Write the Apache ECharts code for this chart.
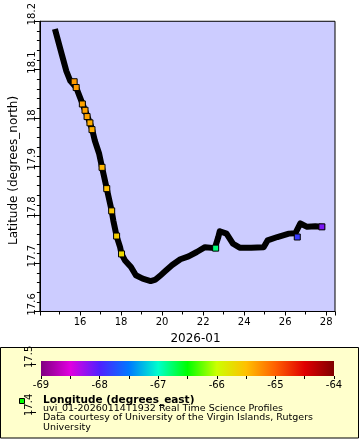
<!DOCTYPE html>
<html><head><meta charset="utf-8">
<script src="https://cdn.jsdelivr.net/npm/echarts@6/dist/echarts.min.js"></script>
<style>html,body{margin:0;padding:0;background:#fff}#c{width:360px;height:440px}</style>
</head><body><div id="c"></div>
<script>
// Track (time in days of 2026-01, latitude)
const trackDay = [14.81,15.11,15.33,15.52,15.81,16.00,16.24,16.48,16.59,16.72,16.93,17.07,17.30,17.54,17.62,17.78,17.95,18.02,18.18,18.48,18.72,19.05,19.44,19.68,19.93,20.17,20.49,20.89,21.29,21.69,22.09,22.57,22.74,22.81,23.14,23.46,23.78,24.34,24.95,25.14,25.62,26.18,26.50,26.74,27.07,27.47,27.79];
const trackLat = [18.178,18.131,18.097,18.077,18.063,18.042,18.016,17.990,17.976,17.953,17.926,17.898,17.854,17.808,17.788,17.756,17.733,17.719,17.706,17.692,17.675,17.668,17.663,17.666,17.675,17.684,17.696,17.708,17.714,17.723,17.733,17.731,17.754,17.766,17.761,17.740,17.732,17.732,17.733,17.747,17.754,17.761,17.762,17.782,17.775,17.776,17.775];
// Visible coloured profile markers (day, latitude, longitude)
const markDay = [15.71,15.81,16.11,16.24,16.34,16.48,16.58,17.07,17.30,17.54,17.78,18.02,22.61,26.59,27.79];
const markLat = [18.075,18.063,18.029,18.016,18.003,17.990,17.976,17.898,17.854,17.808,17.756,17.719,17.731,17.754,17.775];
const markLon = [-65.30,-65.30,-65.35,-65.35,-65.35,-65.40,-65.40,-65.45,-65.50,-65.55,-65.60,-65.70,-66.80,-67.85,-68.15];
const colorTicks = [-69,-68,-67,-66,-65,-64];
const extraLatTicks = [17.4,17.5];
const palette = ['#800080','#e000e0','#5020ff','#0078ff','#00ffcc','#00ff00','#ccff00','#ffc000','#ff6000','#e00000','#800000'];
const legendLines = ['uvi_01-20260114T1932 Real Time Science Profiles','Data courtesy of University of the Virgin Islands, Rutgers','University'];

const FONT = '"DejaVu Sans", sans-serif';
const chart = echarts.init(document.getElementById('c'), null, {renderer:'canvas'});
const stops = palette.map((c,i)=>({offset:i/(palette.length-1), color:c}));
const yLabel = {fontSize:10, color:'#000', rotate:90, align:'left', verticalAlign:'bottom', margin:2, padding:[0,0,0,-4], fontFamily:FONT};

chart.setOption({
  animation:false,
  textStyle:{fontFamily:FONT},
  grid:[
    {left:36, top:20, width:299, height:291.5, show:true, backgroundColor:'#ccccff', borderColor:'#000', borderWidth:1, containLabel:false},
    {left:41, top:361, width:293, height:15, show:false, containLabel:false},
    {left:36, top:316, width:1, height:96, show:false, containLabel:false}
  ],
  xAxis:[
    {type:'value', gridIndex:0, min:14.04, max:28.43, splitNumber:7,
     name:'2026-01', nameLocation:'middle', nameGap:18,
     nameTextStyle:{fontSize:12, color:'#000', fontFamily:FONT, padding:[0,0,0,16]},
     axisLine:{show:true, onZero:false, lineStyle:{color:'#000', width:1}},
     axisTick:{show:true, length:4, lineStyle:{color:'#000'}},
     minorTick:{show:true, splitNumber:2, length:3, lineStyle:{color:'#000'}},
     splitLine:{show:false},
     axisLabel:{fontSize:10, color:'#000', margin:6, showMinLabel:false, showMaxLabel:false, fontFamily:FONT}},
    {type:'value', gridIndex:1, min:-69, max:-64, interval:1,
     axisLine:{show:false, onZero:false},
     axisTick:{show:true, length:3, lineStyle:{color:'#000'}},
     minorTick:{show:true, splitNumber:2, length:3, lineStyle:{color:'#000'}},
     splitLine:{show:false},
     axisLabel:{fontSize:10, color:'#000', margin:4, showMinLabel:true, showMaxLabel:true, fontFamily:FONT}},
    {type:'value', gridIndex:2, min:0, max:1, show:false}
  ],
  yAxis:[
    {type:'value', gridIndex:0, min:17.6, max:18.2, interval:0.1,
     name:'Latitude (degrees_north)', nameLocation:'middle', nameGap:17,
     nameTextStyle:{fontSize:12, color:'#000', fontFamily:FONT, padding:[0,8,0,0]},
     axisLine:{show:true, onZero:false, lineStyle:{color:'#000', width:1}},
     axisTick:{show:true, length:6, lineStyle:{color:'#000'}},
     minorTick:{show:true, splitNumber:5, length:3, lineStyle:{color:'#000'}},
     splitLine:{show:false},
     axisLabel:Object.assign({showMinLabel:true, showMaxLabel:true}, yLabel)},
    {type:'value', gridIndex:1, min:0, max:1, show:false},
    {type:'value', gridIndex:2, min:17.4, max:17.6, z:5,
     axisLine:{show:false, onZero:false},
     axisTick:{show:true, length:6, customValues:extraLatTicks, lineStyle:{color:'#000'}},
     splitLine:{show:false},
     axisLabel:Object.assign({customValues:extraLatTicks}, yLabel)}
  ],
  visualMap:{type:'continuous', show:false, min:-69, max:-64, dimension:2, seriesIndex:1, inRange:{color:palette}},
  series:[
    {type:'line', xAxisIndex:0, yAxisIndex:0, data:trackDay.map((d,i)=>[d,trackLat[i]]),
     symbol:'none', silent:true, z:2,
     lineStyle:{color:'#000', width:6, cap:'square', join:'round'}},
    {type:'scatter', xAxisIndex:0, yAxisIndex:0, data:markDay.map((d,i)=>[d,markLat[i],markLon[i]]),
     symbol:'rect', symbolSize:6, z:3, silent:true,
     itemStyle:{borderColor:'#000', borderWidth:1, opacity:1}}
  ],
  graphic:[
    {type:'rect', z:-1, shape:{x:0.5, y:347.5, width:358, height:90.5}, style:{fill:'#ffffcc', stroke:'#000', lineWidth:1}},
    {type:'rect', z:1, shape:{x:41, y:361, width:293, height:15}, style:{fill:new echarts.graphic.LinearGradient(0,0,1,0,stops)}},
    {type:'rect', z:1, shape:{x:19.5, y:398.5, width:5, height:5}, style:{fill:'#00ff00', stroke:'#000', lineWidth:1}},
    {type:'text', z:1, x:43, y:400, style:{text:'Longitude (degrees_east)', font:'bold 10.5px '+FONT, fill:'#000', align:'left', verticalAlign:'middle'}},
    {type:'text', z:1, x:43, y:409, style:{text:legendLines[0], font:'9.5px '+FONT, fill:'#000', align:'left', verticalAlign:'middle'}},
    {type:'text', z:1, x:43, y:418, style:{text:legendLines[1], font:'9.5px '+FONT, fill:'#000', align:'left', verticalAlign:'middle'}},
    {type:'text', z:1, x:43, y:427.3, style:{text:legendLines[2], font:'9.5px '+FONT, fill:'#000', align:'left', verticalAlign:'middle'}}
  ]
});
</script></body></html>
